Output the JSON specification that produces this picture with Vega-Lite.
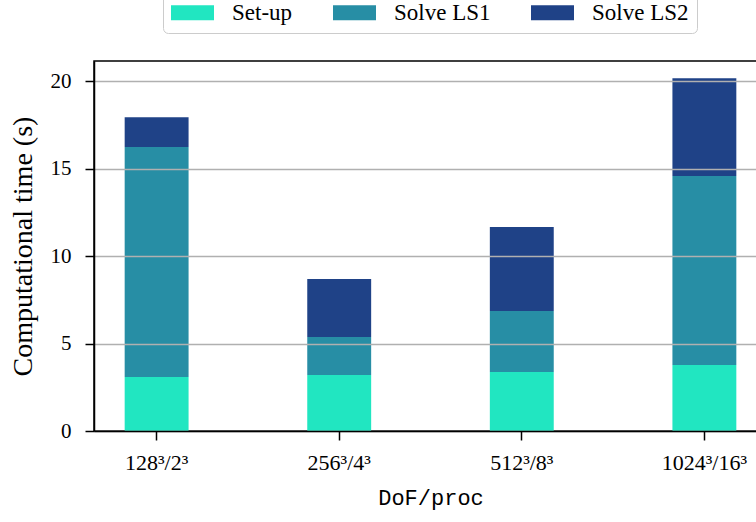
{
  "$schema": "https://vega.github.io/schema/vega-lite/v6.json",
  "autosize": "none",
  "padding": {"left": 94, "top": 61, "right": 0, "bottom": 91},
  "width": 673,
  "height": 370,
  "background": "white",
  "view": {"stroke": "black", "strokeWidth": 1.5},
  "data": {
    "values": [
      {"case": "128³/2³", "phase": "Set-up", "time": 3.09},
      {"case": "128³/2³", "phase": "Solve LS1", "time": 13.14},
      {"case": "128³/2³", "phase": "Solve LS2", "time": 1.71},
      {"case": "256³/4³", "phase": "Set-up", "time": 3.2},
      {"case": "256³/4³", "phase": "Solve LS1", "time": 2.17},
      {"case": "256³/4³", "phase": "Solve LS2", "time": 3.32},
      {"case": "512³/8³", "phase": "Set-up", "time": 3.37},
      {"case": "512³/8³", "phase": "Solve LS1", "time": 3.49},
      {"case": "512³/8³", "phase": "Solve LS2", "time": 4.8},
      {"case": "1024³/16³", "phase": "Set-up", "time": 3.77},
      {"case": "1024³/16³", "phase": "Solve LS1", "time": 10.8},
      {"case": "1024³/16³", "phase": "Solve LS2", "time": 5.6}
    ]
  },
  "mark": {"type": "bar"},
  "encoding": {
    "x": {
      "field": "case",
      "type": "nominal",
      "sort": ["128³/2³", "256³/4³", "512³/8³", "1024³/16³"],
      "scale": {"paddingInner": 0.65, "paddingOuter": 0.168},
      "axis": {
        "title": "DoF/proc",
        "titleFont": "Liberation Mono",
        "titleFontSize": 22,
        "titleFontWeight": "normal",
        "titleColor": "black",
        "titlePadding": 14,
        "labelAngle": 0,
        "labelFont": "Liberation Serif",
        "labelFontSize": 22,
        "labelColor": "black",
        "labelPadding": 12,
        "tickSize": 9,
        "tickWidth": 1.5,
        "tickColor": "black",
        "domainColor": "black",
        "domainWidth": 1.5,
        "grid": false,
        "zindex": 1
      }
    },
    "y": {
      "field": "time",
      "type": "quantitative",
      "stack": "zero",
      "scale": {"domain": [0, 21.15], "nice": false},
      "axis": {
        "title": "Computational time (s)",
        "titleFont": "Liberation Serif",
        "titleFontSize": 28,
        "titleFontWeight": "normal",
        "titleColor": "black",
        "titlePadding": 13,
        "values": [0, 5, 10, 15, 20],
        "labelFont": "Liberation Serif",
        "labelFontSize": 21,
        "labelColor": "black",
        "labelPadding": 14,
        "tickSize": 9,
        "tickWidth": 1.5,
        "tickColor": "black",
        "domainColor": "black",
        "domainWidth": 1.5,
        "grid": true,
        "gridColor": "#b0b0b0",
        "gridWidth": 1.6,
        "gridOpacity": 1,
        "zindex": 1
      }
    },
    "order": {"field": "phase", "type": "nominal", "sort": "ascending"},
    "color": {
      "field": "phase",
      "type": "nominal",
      "scale": {
        "domain": ["Set-up", "Solve LS1", "Solve LS2"],
        "range": ["#21e6c1", "#278ea5", "#1f4287"]
      },
      "legend": {
        "title": null,
        "orient": "none",
        "direction": "horizontal",
        "legendX": 69,
        "legendY": -78,
        "symbolType": "M-1,-0.35H1V0.35H-1Z",
        "symbolSize": 1849,
        "symbolStrokeWidth": 0,
        "labelFont": "Liberation Serif",
        "labelFontSize": 23,
        "labelColor": "black",
        "labelOffset": 18,
        "columnPadding": 40,
        "padding": 8,
        "fillColor": "white",
        "strokeColor": "#cccccc",
        "cornerRadius": 5
      }
    }
  }
}
